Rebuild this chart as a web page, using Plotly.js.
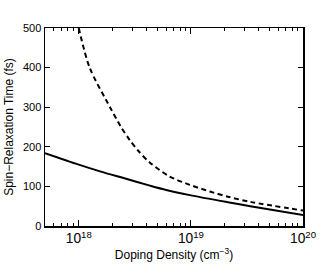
<!DOCTYPE html>
<html>
<head>
<meta charset="utf-8">
<script src="https://cdn.plot.ly/plotly-3.0.1.min.js"></script>
<style>html,body{margin:0;padding:0;background:#fff;}#chart{width:332px;height:276px;}</style>
</head>
<body>
<div id="chart"></div>
<script>
// Doping density (cm^-3) and spin-relaxation time (fs)
const solidDensity = [5.0e17, 1.0e18, 1.55e18, 2.51e18, 4.31e18, 6.03e18, 9.77e18, 2.14e19, 3.39e19, 1.0e20];
const solidTime    = [184, 155, 138, 121, 102, 91, 78, 60, 50, 28];

const dashedDensity = [1.0e18, 1.25e18, 1.9e18, 2.37e18, 2.85e18, 3.39e18, 4.31e18, 6.46e18, 9.77e18, 1.48e19, 2.14e19, 3.39e19, 1.0e20];
const dashedTime    = [500, 400, 300, 251, 217, 190, 160, 125, 104, 87, 74, 61, 39];

const yTicks = [0, 100, 200, 300, 400, 500];

const traces = [
  {x: solidDensity, y: solidTime, type: 'scatter', mode: 'lines',
   line: {color: '#000', width: 2, shape: 'spline', smoothing: 0.8}, hoverinfo: 'skip'},
  {x: dashedDensity, y: dashedTime, type: 'scatter', mode: 'lines',
   line: {color: '#000', width: 2, dash: '5px,3.5px', shape: 'spline', smoothing: 0.8}, hoverinfo: 'skip'}
];

const layout = {
  width: 332, height: 276,
  margin: {l: 45, r: 29, t: 28, b: 50},
  paper_bgcolor: '#fff', plot_bgcolor: '#fff',
  showlegend: false,
  font: {family: 'Liberation Sans, Arial, sans-serif', size: 11, color: '#000'},
  xaxis: {
    type: 'log', range: [Math.log10(5e17), 20],
    dtick: 1, exponentformat: 'power',
    showgrid: false, zeroline: false,
    showline: true, linecolor: '#000', linewidth: 1.5, mirror: 'ticks',
    ticks: 'inside', ticklen: 6, tickwidth: 1, tickcolor: '#000',
    minor: {ticks: 'inside', ticklen: 3, tickwidth: 1, tickcolor: '#000', dtick: 'D1', showgrid: false},
    tickfont: {size: 11},
    title: {text: 'Doping Density (cm<sup>\u22123</sup>)', font: {size: 12}, standoff: 4}
  },
  yaxis: {
    range: [0, 500], tickvals: yTicks,
    showgrid: false, zeroline: false,
    showline: true, linecolor: '#000', linewidth: 1.5, mirror: 'ticks',
    ticks: 'inside', ticklen: 5, tickwidth: 1, tickcolor: '#000',
    tickfont: {size: 11},
    title: {text: 'Spin\u2212Relaxation Time (fs)', font: {size: 12}, standoff: 6}
  }
};

Plotly.newPlot('chart', traces, layout, {displayModeBar: false, staticPlot: true});
</script>
</body>
</html>
